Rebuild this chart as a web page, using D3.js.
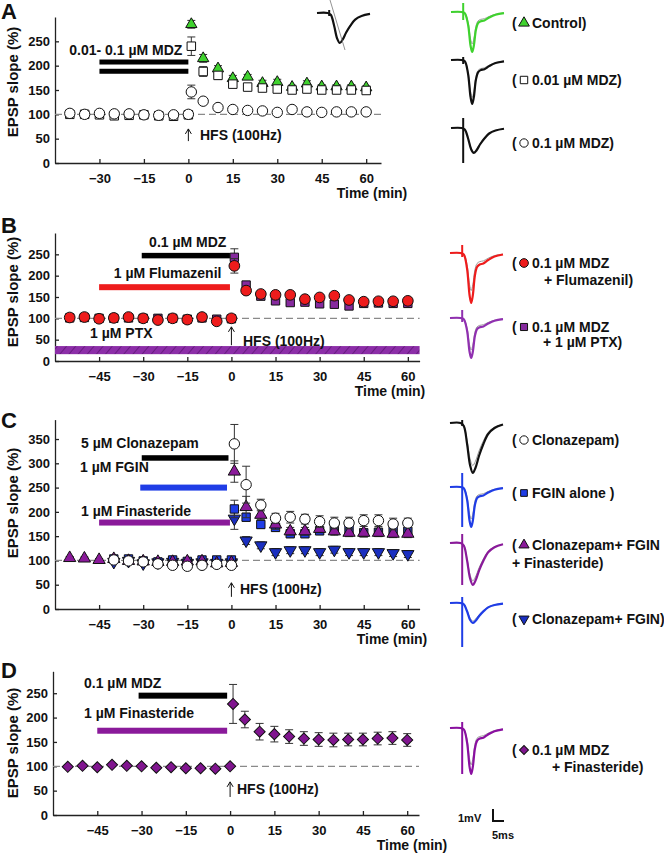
<!DOCTYPE html>
<html>
<head>
<meta charset="utf-8">
<script src="https://cdn.jsdelivr.net/npm/d3@7"></script>
<style>
  body { margin: 0; background: #fff; }
  svg text { font-family: "Liberation Sans", Arial, sans-serif; font-weight: bold; fill: #111; }
</style>
</head>
<body>
<svg id="fig" width="664" height="853"></svg>
<script>
// ---- data ----
const shortBase = [-40, -35, -30, -25, -20, -15, -10, -5, 0];
const longBase = [-55, -50, -45, -40, -35, -30, -25, -20, -15, -10, -5, 0];
const postTime = [1, 5, 10, 15, 20, 25, 30, 35, 40, 45, 50, 55, 60];

const xTicksA = [-30, -15, 0, 15, 30, 45, 60];
const xTicksBCD = [-45, -30, -15, 0, 15, 30, 45, 60];
const yTicks250 = [0, 50, 100, 150, 200, 250];
const yTicks350 = [0, 50, 100, 150, 200, 250, 300, 350];

// A
const aControl = [285, 215, 194, 174, 177, 164, 166, 156, 163, 157, 157, 157, 155];
const aControlErr = [8, 8, 6, 6, 5, 6, 6, 4, 6, 4, 4, 4, 3];
const aMdz001 = [100, 100, 99, 97, 98, 99, 97, 96, 99,
  240, 188, 180, 162, 156, 154, 152, 150, 152, 150, 150, 150, 149];
const aMdz001Err = [2, 2, 2, 2, 2, 2, 2, 2, 2,
  19, 10, 8, 5, 4, 4, 4, 4, 4, 4, 4, 4, 4];
const aMdz01 = [102, 100, 102, 101, 101, 99, 98, 99, 100,
  146, 127, 114, 110, 108, 107, 104, 110, 105, 104, 105, 105, 105];
const aMdz01Err = [2, 2, 2, 2, 2, 2, 2, 2, 2,
  14, 5, 4, 3, 3, 3, 3, 3, 3, 3, 3, 3, 3];

// B
const bFlum = [102, 103, 99, 101, 103, 100, 96, 100, 97, 103, 93, 100,
  223, 165, 157, 155, 155, 145, 149, 153, 143, 139, 140, 140, 141];
const bFlumErr = [4, 4, 4, 4, 4, 4, 4, 5, 4, 4, 5, 4,
  17, 8, 7, 7, 7, 7, 7, 7, 7, 7, 7, 7, 7];
const bPtx = [101, 102, 100, 100, 101, 100, 100, 100, 98, 101, 98, 99,
  243, 178, 152, 141, 137, 138, 134, 133, 129, 135, 136, 135, 135];
const bPtxErr = [3, 3, 3, 3, 3, 3, 3, 3, 3, 3, 3, 3,
  20, 8, 6, 6, 6, 6, 6, 6, 6, 6, 6, 6, 6];

// C
const cClon = [101, 99, 97, 93, 90, 88, 90, 92, 90,
  340, 256, 214, 187, 189, 185, 180, 177, 177, 182, 182, 175, 177];
const cClonErr = [3, 3, 3, 3, 3, 3, 3, 3, 3,
  40, 38, 12, 10, 12, 10, 12, 12, 12, 12, 12, 12, 10];
const cFgin = [103, 103, 99, 97, 101, 98, 101, 101, 101,
  206, 189, 174, 168, 155, 155, 161, 163, 163, 157, 158, 160, 160];
const cFginErr = [3, 3, 3, 3, 3, 3, 3, 3, 3,
  18, 8, 8, 8, 8, 8, 8, 8, 8, 8, 8, 8, 8];
const cFin = [105, 104, 101, 103, 99, 98, 97, 97, 98, 98, 94, 95,
  283, 210, 194, 174, 160, 160, 165, 160, 157, 157, 157, 155, 155];
const cFinErr = [3, 3, 3, 3, 3, 3, 3, 3, 3, 3, 3, 3,
  22, 22, 10, 10, 8, 8, 8, 8, 8, 8, 8, 8, 8];
const cClonFgin = [97, 99, 94, 96, 97, 95, 96, 95, 96,
  186, 141, 131, 117, 121, 121, 117, 122, 117, 117, 117, 115, 113];
const cClonFginErr = [3, 3, 3, 3, 3, 3, 3, 3, 3,
  22, 8, 7, 7, 7, 7, 7, 7, 7, 7, 7, 7, 7];

// D
const dMdzFin = [99, 101, 98, 103, 101, 100, 97, 98, 96, 96, 95, 100,
  228, 196, 171, 166, 161, 157, 155, 154, 155, 155, 157, 158, 154];
const dMdzFinErr = [3, 3, 3, 3, 3, 3, 3, 3, 3, 3, 3, 3,
  40, 17, 17, 16, 14, 14, 14, 14, 13, 13, 13, 13, 13];

// waveform templates (time 0..1, depth 0..1 downward)
const sharpShape = [[0, 0], [0.2, 0], [0.26, 0.03], [0.32, 0.3], [0.37, 0.85], [0.4, 1], [0.43, 0.85],
  [0.47, 0.45], [0.51, 0.28], [0.56, 0.23], [0.63, 0.21], [0.72, 0.14], [0.84, 0.07], [1, 0.03]];
const broadShape = [[0, 0], [0.2, 0], [0.26, 0.06], [0.32, 0.4], [0.38, 0.85], [0.43, 1], [0.48, 0.9],
  [0.55, 0.65], [0.63, 0.42], [0.72, 0.22], [0.84, 0.1], [1, 0.03]];

// ---- colours ----
const green = "#3fd22e", red = "#ee1c1c", purple = "#862a9e", violet = "#8a1a9a",
  blue = "#1f3de6", navy = "#1a2fc0", dPurple = "#80158f";

const svg = d3.select("#fig");

// hatch for PTX bar
const defs = svg.append("defs");
const pat = defs.append("pattern").attr("id", "hatch").attr("patternUnits", "userSpaceOnUse")
  .attr("width", 7).attr("height", 7).attr("patternTransform", "rotate(40)");
pat.append("rect").attr("width", 7).attr("height", 7).attr("fill", "#8c2ea8");
pat.append("line").attr("x1", 0).attr("y1", 0).attr("x2", 0).attr("y2", 7)
  .attr("stroke", "#55106b").attr("stroke-width", 1.3);

function zip(t, v, e) {
  return t.map((d, i) => ({ t: d, v: v[i], e: e ? e[i] : 0 }));
}

function axes(x, y, xt, yt, titleX, ytitleY) {
  const y0 = y.range()[0];
  const x0 = x.range()[0];
  const gx = svg.append("g").attr("transform", `translate(0,${y0})`)
    .call(d3.axisBottom(x).tickValues(xt).tickSize(-4).tickSizeOuter(0).tickPadding(11));
  const gy = svg.append("g").attr("transform", `translate(${x0},0)`)
    .call(d3.axisLeft(y).tickValues(yt).tickSize(-4).tickSizeOuter(0).tickPadding(5));
  [gx, gy].forEach((g) => {
    g.selectAll("path, line").attr("stroke", "#222").attr("stroke-width", 1.3);
    g.selectAll("text").style("font-size", "13px").attr("fill", "#111");
  });
  svg.append("text").attr("x", titleX).attr("y", y0 + 35).attr("text-anchor", "middle")
    .style("font-size", "14px").text("Time (min)");
  svg.append("text").attr("transform", `translate(18,${ytitleY}) rotate(-90)`)
    .attr("text-anchor", "middle").style("font-size", "15px").text("EPSP slope (%)");
  // 100% reference
  svg.append("line").attr("x1", x0).attr("x2", x.range()[1])
    .attr("y1", y(100)).attr("y2", y(100))
    .attr("stroke", "#8a8a8a").attr("stroke-width", 1.2).attr("stroke-dasharray", "7,4");
}

function series(x, y, data, sym, size, fill, rot) {
  const g = svg.append("g");
  const bars = data.filter((d) => d.e > 0);
  g.selectAll("line.v").data(bars).join("line")
    .attr("x1", (d) => x(d.t)).attr("x2", (d) => x(d.t))
    .attr("y1", (d) => y(d.v - d.e)).attr("y2", (d) => y(d.v + d.e))
    .attr("stroke", "#333").attr("stroke-width", 1);
  [1, -1].forEach((s) => {
    g.selectAll("line.c" + s).data(bars).join("line")
      .attr("x1", (d) => x(d.t) - 4).attr("x2", (d) => x(d.t) + 4)
      .attr("y1", (d) => y(d.v + s * d.e)).attr("y2", (d) => y(d.v + s * d.e))
      .attr("stroke", "#333").attr("stroke-width", 1);
  });
  g.selectAll("path").data(data).join("path")
    .attr("d", d3.symbol().type(sym).size(size))
    .attr("transform", (d) => `translate(${x(d.t)},${y(d.v)}) rotate(${rot || 0})`)
    .attr("fill", fill).attr("stroke", "#111").attr("stroke-width", 1);
}

function drugBar(x, y, t0, t1, level, h, fill) {
  svg.append("rect").attr("x", x(t0)).attr("width", x(t1) - x(t0))
    .attr("y", y(level) - h / 2).attr("height", h).attr("fill", fill);
}

function label(px, py, txt, anchor, size) {
  svg.append("text").attr("x", px).attr("y", py).attr("text-anchor", anchor || "start")
    .style("font-size", (size || 14) + "px").text(txt);
}

function hfs(x, y, v0, v1, tx, ty) {
  const px = x(0);
  svg.append("path")
    .attr("d", `M${px},${y(v0)}V${y(v1)}M${px - 3},${y(v1) + 5}L${px},${y(v1)}L${px + 3},${y(v1) + 5}`)
    .attr("fill", "none").attr("stroke", "#111").attr("stroke-width", 1);
  label(tx, ty, "HFS (100Hz)");
}

function panelLetter(txt, py) {
  svg.append("text").attr("x", 1).attr("y", py).style("font-size", "22px").text(txt);
}

function trace(shape, left, base, depth, color, greyFrac, art) {
  const tx = d3.scaleLinear().domain([0, 1]).range([left, left + 53]);
  const ty = d3.scaleLinear().domain([0, 1]).range([base, base + depth]);
  const line = d3.line().x((d) => tx(d[0])).y((d) => ty(d[1])).curve(d3.curveCatmullRom.alpha(0.5));
  svg.append("path").attr("d", line(shape.map((d) => [d[0], d[1] * greyFrac])))
    .attr("fill", "none").attr("stroke", "#999").attr("stroke-width", 1);
  svg.append("path").attr("d", line(shape))
    .attr("fill", "none").attr("stroke", color).attr("stroke-width", 2.2);
  svg.append("line").attr("x1", tx(0.23)).attr("x2", tx(0.23))
    .attr("y1", base + art[0]).attr("y2", base + art[1])
    .attr("stroke", color).attr("stroke-width", 2);
}

function legend(py, sym, size, fill, txt, rot) {
  label(512, py + 5, "(");
  svg.append("path").attr("d", d3.symbol().type(sym).size(size))
    .attr("transform", `translate(524,${py}) rotate(${rot || 0})`)
    .attr("fill", fill).attr("stroke", "#111").attr("stroke-width", 1);
  label(532, py + 5, txt);
}

// ================= Panel A =================
{
  const x = d3.scaleLinear().domain([-45, 65]).range([55, 381]);
  const y = d3.scaleLinear().domain([0, 300]).range([163, 17]);
  panelLetter("A", 19);
  axes(x, y, xTicksA, yTicks250, 372, 82);
  drugBar(x, y, -30, 0, 207.5, 5, "#000");
  drugBar(x, y, -30, 0, 188.5, 5, "#000");
  label(x(0) - 6, y(221), "0.01- 0.1 \u00b5M MDZ", "end");
  series(x, y, zip(postTime, aControl, aControlErr), d3.symbolTriangle, 55, green);
  series(x, y, zip(shortBase.concat(postTime), aMdz001, aMdz001Err), d3.symbolSquare, 72, "#fff");
  series(x, y, zip(shortBase.concat(postTime), aMdz01, aMdz01Err), d3.symbolCircle, 85, "#fff");
  hfs(x, y, 45, 70, 200, 140);
  // inset trace with slope line
  trace(broadShape, 317, 13, 30, "#111", 1, [-3, 3]);
  svg.append("line").attr("x1", 330).attr("y1", 0).attr("x2", 345).attr("y2", 50)
    .attr("stroke", "#777").attr("stroke-width", 0.8);

  trace(sharpShape, 451, 12, 40, green, 0.8, [-9, 8]);
  trace(sharpShape, 451, 60, 44, "#111", 0.85, [-3, 4]);
  trace(broadShape, 451, 128, 25, "#111", 0.95, [-10, 35]);
  legend(23, d3.symbolTriangle, 50, green, "Control)");
  legend(80, d3.symbolSquare, 55, "#fff", "0.01 \u00b5M MDZ)");
  legend(143, d3.symbolCircle, 55, "#fff", "0.1 \u00b5M MDZ)");
}

// ================= Panel B =================
{
  const x = d3.scaleLinear().domain([-60, 64]).range([55, 419.6]);
  const y = d3.scaleLinear().domain([0, 300]).range([361, 233]);
  panelLetter("B", 233);
  axes(x, y, xTicksBCD, yTicks250, 390, 292);
  svg.append("rect").attr("x", x(-60)).attr("width", x(64) - x(-60))
    .attr("y", y(35)).attr("height", y(16) - y(35)).attr("fill", "url(#hatch)");
  drugBar(x, y, -30.5, -0.5, 247, 5.5, "#000");
  drugBar(x, y, -45, -0.5, 173, 6, red);
  label(x(0) - 5, y(267), "0.1 \u00b5M MDZ", "end");
  label(x(0) - 10, y(194.5), "1 \u00b5M Flumazenil", "end");
  label(90, y(54), "1 \u00b5M PTX");
  series(x, y, zip(longBase.concat(postTime), bPtx, bPtxErr), d3.symbolSquare, 70, purple);
  series(x, y, zip(longBase.concat(postTime), bFlum, bFlumErr), d3.symbolCircle, 90, red);
  hfs(x, y, 37, 80, 243, 346);

  trace(sharpShape, 450, 253, 50, red, 0.75, [-8, 4]);
  trace(sharpShape, 450, 318, 40, "#9030b0", 0.8, [-8, 4]);
  legend(263, d3.symbolCircle, 60, red, "0.1 \u00b5M MDZ");
  label(544, 285, "+ Flumazenil)");
  legend(327, d3.symbolSquare, 50, purple, "0.1 \u00b5M MDZ");
  label(543, 347, "+ 1 \u00b5M PTX)");
}

// ================= Panel C =================
{
  const x = d3.scaleLinear().domain([-60, 64]).range([55, 419.6]);
  const y = d3.scaleLinear().domain([0, 390]).range([609, 419.6]);
  panelLetter("C", 428);
  axes(x, y, xTicksBCD, yTicks350, 392, 503);
  drugBar(x, y, -30.5, -1, 311, 5.5, "#000");
  drugBar(x, y, -31, -1.5, 250, 6, blue);
  drugBar(x, y, -45, -0.5, 178, 6, violet);
  label(81, y(332), "5 \u00b5M Clonazepam");
  label(80, y(283), "1 \u00b5M FGIN");
  label(81, y(192), "1 \u00b5M Finasteride");
  series(x, y, zip(shortBase.concat(postTime), cClonFgin, cClonFginErr), d3.symbolTriangle, 65, navy, 180);
  series(x, y, zip(shortBase.concat(postTime), cFgin, cFginErr), d3.symbolSquare, 70, blue);
  series(x, y, zip(longBase.concat(postTime), cFin, cFinErr), d3.symbolTriangle, 65, violet);
  series(x, y, zip(shortBase.concat(postTime), cClon, cClonErr), d3.symbolCircle, 85, "#fff");
  hfs(x, y, 25, 54, 240, 594);

  trace(broadShape, 450, 423, 50, "#111", 0.85, [-3, 3]);
  trace(sharpShape, 450, 487, 40, blue, 0.8, [-14, 40]);
  trace(broadShape, 450, 543, 42, violet, 0.9, [-9, 42]);
  trace(broadShape, 450, 603, 20, blue, 0.9, [-6, 44]);
  legend(440, d3.symbolCircle, 55, "#fff", "Clonazepam)");
  legend(493, d3.symbolSquare, 45, blue, "FGIN alone )");
  legend(545, d3.symbolTriangle, 45, violet, "Clonazepam+ FGIN");
  label(512, 568, "+ Finasteride)");
  legend(619, d3.symbolTriangle, 45, navy, "Clonazepam+ FGIN)", 180);
}

// ================= Panel D =================
{
  const x = d3.scaleLinear().domain([-60, 64]).range([53, 419]);
  const y = d3.scaleLinear().domain([0, 295]).range([815, 671.3]);
  panelLetter("D", 678);
  axes(x, y, xTicksBCD, yTicks250, 412, 743);
  drugBar(x, y, -31, -1, 245, 6, "#000");
  drugBar(x, y, -45, -1, 173, 6, violet);
  label(84, y(261), "0.1 \u00b5M MDZ");
  label(84, y(199), "1 \u00b5M Finasteride");
  series(x, y, zip(longBase.concat(postTime), dMdzFin, dMdzFinErr), d3.symbolSquare, 62, dPurple, 45);
  hfs(x, y, 37, 68, 237, 794);

  trace(sharpShape, 450, 728, 46, "#8a10a0", 0.8, [-6, 46]);
  legend(750, d3.symbolSquare, 40, dPurple, "0.1 \u00b5M MDZ", 45);
  label(552, 772, "+ Finasteride)");

  // scale bar
  svg.append("path").attr("d", "M493,809V821H504").attr("fill", "none")
    .attr("stroke", "#111").attr("stroke-width", 2);
  label(458, 822, "1mV", "start", 11);
  label(492, 839, "5ms", "start", 11);
}
</script>
</body>
</html>
